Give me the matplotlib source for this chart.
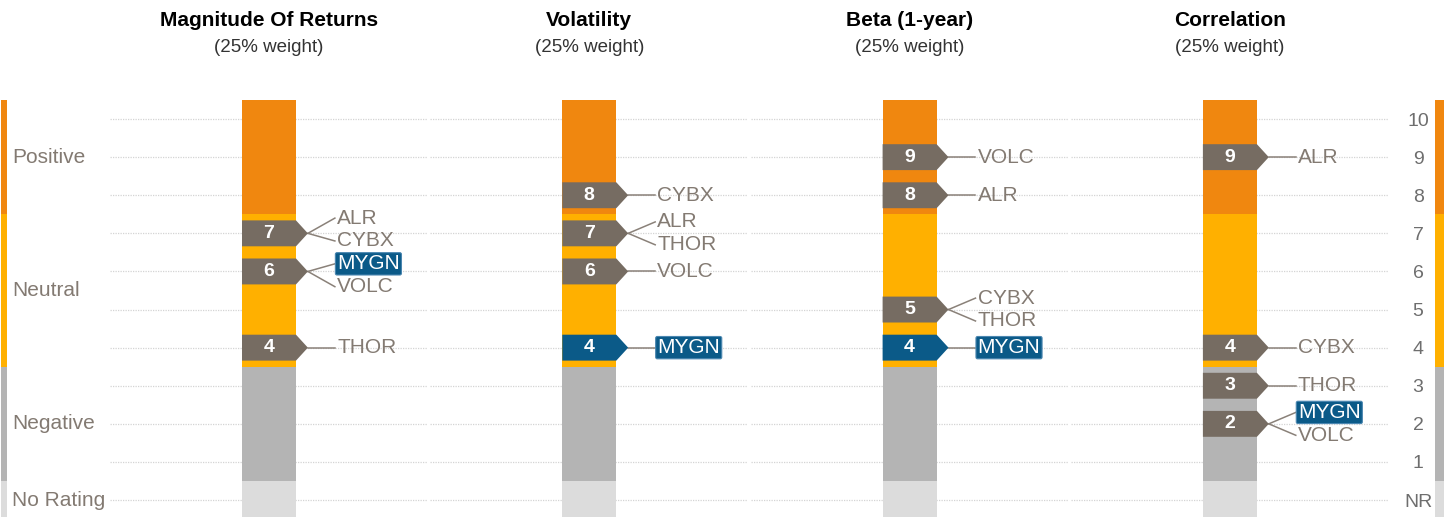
import numpy as np
import matplotlib.pyplot as plt
from matplotlib.patches import Polygon
from matplotlib.transforms import blended_transform_factory

plt.rcParams['font.family'] = ['Liberation Sans', 'DejaVu Sans']

# data
tickers = ['ALR', 'CYBX', 'MYGN', 'THOR', 'VOLC']
highlight = 'MYGN'
titles = ['Magnitude Of Returns', 'Volatility', 'Beta (1-year)', 'Correlation']
weights = ['25%', '25%', '25%', '25%']
magnitude = [7, 7, 6, 4, 6]
volatility = [7, 8, 4, 7, 6]
beta = [8, 5, 4, 5, 9]
correlation = [9, 4, 2, 3, 2]
panel_scores = [magnitude, volatility, beta, correlation]

band_names = ['No Rating', 'Negative', 'Neutral', 'Positive']
band_edges = [-0.5, 0.5, 3.5, 7.5, 10.5]
tick_values = list(range(11))
tick_labels = ['NR'] + [str(v) for v in range(1, 11)]

# style
band_colors = ['#dcdcdc', '#b4b4b4', '#ffb000', '#f0870f']
marker_gray = '#766c62'
marker_blue = '#0b5a88'
text_gray = '#837a72'
line_gray = '#8a8179'

W, H = 1444, 517
px_unit = 38.1
top_px = 100
ax_h = (H - top_px) / H
ylim = (10.5 - (H - top_px) / px_unit, 10.5)
panel_w = 318
half_x = panel_w / 54 / 2
gap = 0.6


def place_labels(names, scores):
    order = sorted(zip(names, scores), key=lambda t: (-t[1], t[0]))
    clusters = [[t] for t in order]
    merged = True
    while merged:
        merged = False
        for i in range(len(clusters) - 1):
            a, b = clusters[i], clusters[i + 1]
            ca = np.mean([t[1] for t in a])
            cb = np.mean([t[1] for t in b])
            low_a = ca - gap * (len(a) - 1) / 2
            high_b = cb + gap * (len(b) - 1) / 2
            if low_a - high_b < gap:
                clusters[i] = a + b
                del clusters[i + 1]
                merged = True
                break
    out = []
    for c in clusters:
        center = np.mean([t[1] for t in c])
        for j, (n, s) in enumerate(c):
            out.append((n, s, center + gap * ((len(c) - 1) / 2 - j)))
    return out


fig = plt.figure(figsize=(W / 100, H / 100), dpi=100)

axes = []
for k in range(4):
    left = (110 + 320.3 * k) / W
    ax = fig.add_axes([left, 0, panel_w / W, ax_h])
    axes.append(ax)
    ax.set_xlim(-half_x, half_x)
    ax.set_ylim(*ylim)
    for s in ax.spines.values():
        s.set_visible(False)
    ax.set_xticks([])
    ax.set_yticks([])
    for v in tick_values:
        ax.axhline(v, color='#d4d4d4', lw=0.9, ls=(0, (1, 1)), zorder=0)

    # rating bands
    for i in range(len(band_names)):
        ax.bar(0, band_edges[i + 1] - band_edges[i], bottom=band_edges[i],
               width=1, color=band_colors[i], zorder=1)

    scores = panel_scores[k]
    # score markers
    for s in sorted(set(scores), reverse=True):
        names = sorted(n for n, v in zip(tickers, scores) if v == s)
        col = marker_blue if names == [highlight] else marker_gray
        poly = Polygon([(-0.5, s - 0.34), (-0.5, s + 0.34), (0.5, s + 0.34),
                        (0.72, s), (0.5, s - 0.34)], closed=True,
                       fc=col, ec='none', zorder=3)
        ax.add_patch(poly)
        ax.text(0, s, str(s), color='white', fontsize=14, fontweight='bold',
                ha='center', va='center', zorder=4)

    # ticker labels with leader lines
    for n, s, ly in place_labels(tickers, scores):
        ax.plot([0.72, 1.22], [s, ly], color=line_gray, lw=1.1,
                zorder=2, clip_on=False)
        if n == highlight:
            ax.text(1.26, ly, n, color='white', fontsize=15, ha='left',
                    va='center', zorder=5,
                    bbox=dict(boxstyle='round,pad=0.08', fc=marker_blue,
                              ec='#4a86b0', lw=0.8))
        else:
            ax.text(1.26, ly, n, color=text_gray, fontsize=15, ha='left',
                    va='center', zorder=5)

    cx = left + panel_w / W / 2
    fig.text(cx, 1 - 20 / H, titles[k], ha='center', va='center',
             fontsize=15, fontweight='bold', color='black')
    fig.text(cx, 1 - 48 / H, '(%s weight)' % weights[k], ha='center',
             va='center', fontsize=13.5, color='#333333')

# right score axis
ax = axes[-1]
ax.yaxis.tick_right()
ax.set_yticks(tick_values)
ax.set_yticklabels(tick_labels)
ax.tick_params(axis='y', length=0, pad=21, labelsize=14, labelcolor='#6e6e6e')
for lab in ax.get_yticklabels():
    lab.set_horizontalalignment('center')

# band label strips at both edges
for x0, w in [(1, 6), (1435, 9)]:
    sax = fig.add_axes([x0 / W, 0, w / W, ax_h])
    sax.set_ylim(*ylim)
    sax.set_xlim(-0.5, 0.5)
    sax.axis('off')
    for i in range(len(band_names)):
        sax.bar(0, band_edges[i + 1] - band_edges[i], bottom=band_edges[i],
                width=1, color=band_colors[i])

tr = blended_transform_factory(fig.transFigure, axes[0].transData)
for i, name in enumerate(band_names):
    mid = (band_edges[i] + band_edges[i + 1]) / 2
    fig.text(12 / W, mid, name, transform=tr, ha='left', va='center',
             fontsize=15, color=text_gray)

fig.savefig('out.png', dpi=100)
